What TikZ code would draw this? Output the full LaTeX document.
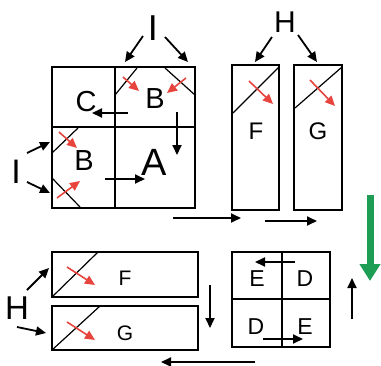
\documentclass[tikz,border=0pt]{standalone}
\usepackage{fontspec}
\setmainfont{Liberation Sans}
\usetikzlibrary{arrows.meta}
\definecolor{redarr}{HTML}{E8443E}
\definecolor{greenarr}{HTML}{1E9E55}
\tikzset{
  box/.style={draw=black, line width=2.4pt},
  diag/.style={draw=black, line width=1.2pt},
  blk/.style={draw=black, line width=1.8pt, -{Triangle[length=10pt,width=9pt]}},
  rd/.style={draw=redarr, line width=1.6pt, -{Triangle[length=10pt,width=9pt]}},
  lbl/.style={inner sep=0pt, font=\fontsize{#1}{#1}\selectfont},
}
\begin{document}
\begin{tikzpicture}[x=1pt,y=-1pt]
\useasboundingbox (0,0) rectangle (381,365);
% ---- top-left 2x2 grid ----
\draw[box] (52,67) rectangle (195,208);
\draw[box] (115,67) -- (115,208);
\draw[box] (52,127) -- (195,127);
\node[lbl=29] (c1) at (86,102) {C};
\node[lbl=29] (b1) at (155,99) {B};
\node[lbl=29] (b2) at (84,161) {B};
\node[lbl=38] (a1) at (154,162) {A};
\draw[diag] (115,95) -- (137,68);
\draw[diag] (165,68) -- (195,95);
\draw[diag] (52,153) -- (78,128);
\draw[diag] (52,178) -- (80,207);
\draw[rd] (123,77) -- (139,91);
\draw[rd] (186,78) -- (167,93);
\draw[rd] (59,132) -- (77,148);
\draw[rd] (57,198) -- (80,181);
\draw[blk] (128,113) -- (92,113);
\draw[blk] (177,112) -- (177,155);
\draw[blk] (105,179) -- (145,179);
% I labels
\node[lbl=36] (i1) at (153,28) {I};
\draw[blk] (143,36) -- (125,62);
\draw[blk] (165,37) -- (188,62);
\node[lbl=34] (i2) at (16,172) {I};
\draw[blk] (27,153) -- (50,142);
\draw[blk] (27,182) -- (50,193);
% arrows below
\draw[blk] (173,218) -- (241,218);
\draw[blk] (265,221) -- (317,221);
% ---- tall F / G boxes ----
\draw[box] (232,65) rectangle (279,210);
\draw[box] (294,65) rectangle (342,210);
\draw[diag] (233,113) -- (279,67);
\draw[diag] (295,108) -- (342,67);
\draw[rd] (249,81) -- (273,104);
\draw[rd] (310,80) -- (335,106);
\node[lbl=24] (f1) at (256,131) {F};
\node[lbl=24] (g1) at (318,131) {G};
\node[lbl=30] (h1) at (285,22) {H};
\draw[blk] (272,37) -- (255,62);
\draw[blk] (298,35) -- (317,62);
% green arrow
\draw[draw=greenarr, line width=7pt, -{Triangle[length=17pt,width=20pt]}] (370,195) -- (370,281);
% ---- lower F / G boxes ----
\draw[box] (52,252) rectangle (198,297);
\draw[box] (52,306) rectangle (198,350);
\draw[diag] (52,297) -- (98,252);
\draw[diag] (52,350) -- (100,306);
\draw[rd] (67,267) -- (95,285);
\draw[rd] (67,322) -- (95,340);
\node[lbl=21] (f2) at (125,278) {F};
\node[lbl=21] (g2) at (125,333) {G};
\node[lbl=33] (h2) at (17,308) {H};
\draw[blk] (27,290) -- (49,268);
\draw[blk] (17,327) -- (46,333);
\draw[blk] (210,285) -- (210,328);
\draw[blk] (255,362) -- (161,362);
% ---- E/D grid ----
\draw[box] (232,252) rectangle (330,347);
\draw[box] (282,252) -- (282,347);
\draw[box] (232,299) -- (330,299);
\node[lbl=23] (e1) at (257,279) {E};
\node[lbl=23] (d1) at (305,279) {D};
\node[lbl=23] (d2) at (256,327) {D};
\node[lbl=23] (e2) at (305,327) {E};
\draw[blk] (295,262) -- (255,262);
\draw[blk] (263,339) -- (303,339);
\draw[blk] (352,319) -- (352,278);
\end{tikzpicture}
\end{document}
